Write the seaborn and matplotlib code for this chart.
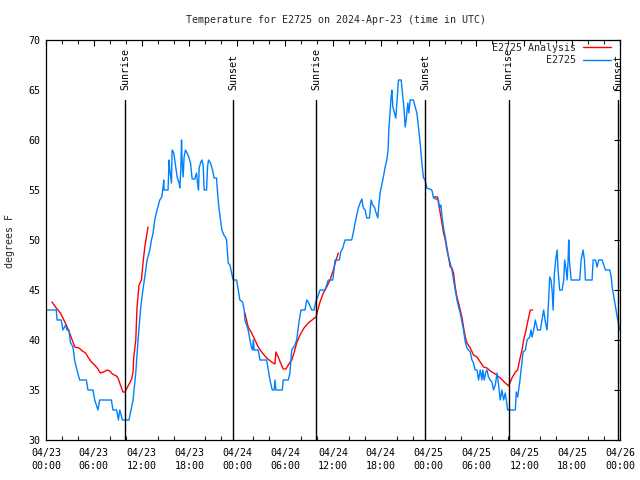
import matplotlib
matplotlib.use("Agg")
import matplotlib.pyplot as plt
import matplotlib.dates as mdates
from matplotlib.lines import Line2D
import numpy as np
import pandas as pd
import seaborn as sns

# ---------------- data ----------------
title = "Temperature for E2725 on 2024-Apr-23 (time in UTC)"
start = "2024-04-23 00:00"

# observed E2725 (hours since 04/23 00:00 UTC, deg F)
obs_hours = [0.00, 1.29, 1.39, 1.92, 2.12, 2.46, 2.63, 2.88, 3.05, 3.38, 3.59, 3.88, 4.22, 5.06, 5.26,
             5.89, 6.11, 6.52, 6.73, 8.20, 8.40, 8.87, 9.08, 9.25, 9.59, 10.41, 10.59, 10.92, 11.26,
             11.55, 11.85, 12.10, 12.39, 12.68, 13.02, 13.23, 13.43, 13.64, 13.93, 14.27, 14.52, 14.69,
             14.77, 14.81, 15.31, 15.44, 15.53, 15.74, 15.82, 16.03, 16.28, 16.45, 16.70, 16.78, 16.91,
             17.00, 17.07, 17.20, 17.32, 17.50, 17.70, 17.91, 18.13, 18.33, 18.67, 18.88, 19.01, 19.13,
             19.21, 19.42, 19.55, 19.71, 19.84, 20.14, 20.26, 20.39, 20.64, 20.89, 21.09, 21.39, 21.52,
             21.68, 21.90, 22.06, 22.31, 22.56, 22.65, 22.85, 23.07, 23.28, 23.48, 23.91, 24.11, 24.32,
             24.66, 24.86, 24.95, 25.16, 25.36, 25.58, 25.79, 25.92, 26.00, 26.12, 26.62, 26.83, 27.68,
             27.88, 28.09, 28.38, 28.63, 28.72, 28.84, 29.64, 29.76, 30.39, 30.60, 30.82, 31.23, 31.44,
             31.77, 31.98, 32.49, 32.70, 32.90, 33.33, 33.62, 33.83, 34.03, 34.37, 35.00, 35.41, 35.97,
             36.13, 36.26, 36.80, 36.97, 37.22, 37.51, 38.35, 38.56, 38.77, 38.98, 39.18, 39.40, 39.61,
             39.81, 40.03, 40.24, 40.57, 40.78, 40.99, 41.19, 41.41, 41.62, 41.75, 41.91, 42.12, 42.32,
             42.54, 42.75, 42.91, 43.00, 43.17, 43.29, 43.38, 43.51, 43.71, 43.88, 44.01, 44.21, 44.55,
             44.71, 44.92, 45.05, 45.18, 45.39, 45.52, 45.68, 46.09, 46.31, 46.52, 46.72, 46.93, 47.15,
             47.35, 47.56, 47.78, 48.40, 48.61, 49.23, 49.36, 49.54, 49.66, 49.87, 50.08, 50.29, 50.49,
             50.70, 50.92, 51.12, 51.33, 51.55, 51.75, 51.96, 52.17, 52.37, 52.59, 52.80, 53.22, 53.43,
             53.63, 53.84, 54.06, 54.26, 54.47, 54.68, 54.80, 54.97, 55.14, 55.31, 55.51, 55.73, 55.94,
             56.14, 56.36, 56.57, 56.77, 56.98, 57.19, 57.40, 57.61, 57.74, 57.90, 58.87, 58.99, 59.16,
             59.41, 59.59, 59.84, 60.13, 60.34, 60.67, 60.84, 60.97, 61.17, 61.38, 61.51, 61.67, 62.01,
             62.22, 62.42, 62.64, 62.85, 63.05, 63.18, 63.35, 63.48, 63.61, 63.77, 63.93, 64.11, 64.23,
             64.43, 64.74, 64.94, 65.06, 65.24, 65.37, 65.49, 65.57, 65.65, 65.87, 66.95, 67.12, 67.37,
             67.54, 67.66, 68.50, 68.63, 68.92, 69.13, 69.33, 69.76, 69.96, 70.18, 70.72, 70.90, 71.02,
             71.23, 71.43, 71.65, 71.85, 71.97]
obs_temp = [43.0, 43.0, 42.0, 42.0, 41.0, 41.5, 41.0, 41.0, 39.8, 39.3, 38.0, 37.0, 36.0, 36.0, 35.0,
            35.0, 34.0, 33.0, 34.0, 34.0, 33.0, 33.0, 32.0, 33.0, 32.0, 32.0, 32.7, 34.0, 36.7,
            40.0, 43.0, 44.7, 46.3, 48.0, 49.0, 50.0, 50.7, 52.0, 53.0, 54.0, 54.3, 55.3,
            56.0, 55.0, 55.0, 58.0, 57.0, 55.7, 59.0, 58.7, 57.3, 56.3, 55.7, 55.2, 57.0,
            60.0, 58.0, 56.3, 58.3, 59.0, 58.7, 58.3, 57.7, 56.1, 56.1, 56.7, 55.7, 55.0,
            57.2, 57.8, 58.0, 57.5, 55.0, 55.0, 57.3, 58.0, 57.7, 57.0, 56.2, 56.2, 54.7,
            53.3, 52.0, 51.0, 50.5, 50.2, 50.0, 47.7, 47.5, 46.7, 46.0, 46.0, 45.0, 44.0,
            43.8, 43.0, 42.0, 41.5, 41.0, 40.0, 39.2, 39.0, 40.0, 39.0, 39.0, 38.0, 38.0,
            37.0, 36.0, 35.0, 35.0, 36.0, 35.0, 35.0, 36.0, 36.0, 36.7, 39.0, 39.5, 40.0,
            42.0, 43.0, 43.0, 44.0, 43.8, 43.0, 43.0, 43.8, 44.2, 45.0, 45.0, 46.0, 46.0,
            47.0, 48.0, 48.0, 48.8, 49.2, 50.0, 50.0, 50.8, 51.7, 52.5, 53.2, 53.7, 54.1,
            53.2, 53.0, 52.2, 52.2, 54.0, 53.5, 53.3, 52.7, 52.2, 53.5, 54.7, 55.5, 56.3,
            57.3, 58.0, 59.0, 61.0, 63.0, 64.3, 65.0, 63.3, 62.7, 62.2, 63.7, 66.0, 66.0,
            64.7, 63.0, 61.3, 62.0, 63.7, 62.7, 64.0, 64.0, 63.3, 62.7, 61.3, 59.7, 57.7,
            56.2, 56.0, 55.2, 55.0, 54.2, 54.0, 53.2, 53.5, 52.4, 51.2, 50.3, 49.3, 48.3,
            47.7, 47.0, 46.0, 45.0, 44.0, 43.3, 42.7, 41.8, 41.0, 39.8, 39.2, 38.8, 38.0,
            37.7, 37.0, 37.0, 36.0, 37.0, 36.0, 37.0, 36.0, 36.7, 37.0, 36.3, 36.0, 35.8,
            35.0, 35.5, 36.7, 35.5, 34.0, 35.0, 34.0, 34.7, 34.0, 33.0, 33.0, 34.8, 34.3,
            35.7, 37.0, 38.8, 39.0, 40.0, 40.3, 41.0, 40.3, 41.0, 42.0, 41.5, 41.0, 41.0,
            42.0, 43.0, 41.8, 41.0, 44.0, 46.3, 46.0, 45.0, 43.0, 46.7, 48.0, 49.0, 47.0,
            45.0, 45.0, 46.0, 48.0, 47.0, 46.0, 48.0, 50.0, 48.0, 46.0, 46.0, 48.0, 49.0,
            48.0, 46.0, 46.0, 48.0, 48.0, 47.3, 48.0, 48.0, 47.5, 47.0, 47.0, 46.3, 45.3,
            44.3, 43.3, 42.3, 41.5, 41.0]

# analysis E2725 (three separate pieces)
an_seg = [1] * 39 + [2] * 31 + [3] * 42
an_hours = [0.74, 1.29, 1.80, 2.12, 2.55, 2.96, 3.38, 3.63, 4.13, 4.56, 4.97, 5.26, 5.69, 6.11, 6.52,
            6.82, 7.24, 7.65, 7.99, 8.33, 8.83, 9.03, 9.25, 9.46, 9.66, 9.91, 10.16, 10.50, 10.75,
            10.92, 11.01, 11.26, 11.42, 11.67, 11.97, 12.17, 12.39, 12.60, 12.80,
            24.95, 25.36, 25.79, 26.21, 26.62, 27.05, 27.68, 28.30, 28.72, 28.84, 29.13, 29.43, 29.76,
            30.10, 30.39, 30.82, 31.11, 31.44, 31.86, 32.36, 32.90, 33.53, 33.87, 34.16, 34.37, 34.79,
            35.21, 35.63, 36.04, 36.38, 36.67,
            48.61, 49.11, 49.23, 49.45, 49.66, 49.87, 50.08, 50.29, 50.49, 50.70, 50.92, 51.12, 51.33,
            51.55, 51.75, 51.96, 52.17, 52.37, 52.59, 52.80, 53.22, 53.63, 54.06, 54.47, 54.89, 55.31,
            55.73, 56.36, 56.98, 57.61, 58.03, 58.45, 58.87, 59.16, 59.41, 59.71, 59.91, 60.13, 60.34,
            60.55, 60.75, 61.04]
an_temp = [43.8, 43.2, 42.7, 42.2, 41.5, 40.7, 39.8, 39.3, 39.2, 38.9, 38.7, 38.3, 37.8, 37.5, 37.1,
           36.7, 36.8, 37.0, 36.9, 36.6, 36.4, 36.2, 35.7, 35.2, 34.8, 34.8, 35.2, 35.7, 36.1,
           36.8, 38.3, 40.0, 43.3, 45.5, 46.0, 47.7, 49.3, 50.3, 51.3,
           42.7, 41.3, 40.7, 40.0, 39.3, 38.8, 38.2, 37.8, 37.6, 38.8, 38.3, 37.7, 37.1,
           37.1, 37.5, 38.0, 38.7, 39.7, 40.5, 41.2, 41.7, 42.1, 42.3, 43.2, 43.8, 44.7,
           45.3, 46.0, 47.0, 48.0, 48.7,
           54.3, 54.3, 53.7, 52.7, 51.7, 50.7, 50.0, 49.0, 48.3, 47.3, 47.2, 46.7, 45.3,
           44.3, 43.7, 43.0, 42.3, 41.3, 40.3, 39.7, 39.2, 38.5, 38.3, 37.8, 37.3, 37.2,
           36.9, 36.6, 36.2, 35.7, 35.4, 36.2, 36.8, 37.0, 38.0, 39.0, 40.0, 40.7, 41.5,
           42.3, 43.0, 43.0]

# sun events (hours since start)
sun_labels = ["Sunrise", "Sunset", "Sunrise", "Sunset", "Sunrise", "Sunset"]
sun_hours = [9.92, 23.48, 33.90, 47.60, 58.03, 71.75]

series_names = ["E2725 Analysis", "E2725"]
series_colors = ["#ff0000", "#0080ff"]

# ---------------- build frames ----------------
t0 = pd.Timestamp(start)
obs = pd.DataFrame({"time": t0 + pd.to_timedelta(obs_hours, unit="h"), "temp": obs_temp})
ana = pd.DataFrame({"time": t0 + pd.to_timedelta(an_hours, unit="h"), "temp": an_temp, "seg": an_seg})

sns.set_style("white")
plt.rcParams["font.family"] = ["DejaVu Sans Mono"]
FS = 7.2

fig = plt.figure(figsize=(6.4, 4.8), dpi=100)
ax = fig.add_axes([46 / 640, 40 / 480, 574 / 640, 400 / 480])

sns.lineplot(data=ana, x="time", y="temp", units="seg", estimator=None, sort=False,
             color=series_colors[0], lw=1.0, ax=ax)
sns.lineplot(data=obs, x="time", y="temp", estimator=None, sort=False,
             color=series_colors[1], lw=1.0, ax=ax)

ax.set_xlim(t0, t0 + pd.Timedelta(hours=72))
ax.set_ylim(30, 70)
ax.set_xlabel("")
ax.set_ylabel("")

# sunrise / sunset markers
for lab, h in zip(sun_labels, sun_hours):
    tt = t0 + pd.Timedelta(hours=h)
    ax.axvline(tt, ymin=0, ymax=(64 - 30) / 40, color="black", lw=1.0)
    ax.text(mdates.date2num(tt), 65.0, lab, rotation=90, ha="center", va="bottom",
            fontsize=FS, color="black", clip_on=False)

# ticks
xt = [t0 + pd.Timedelta(hours=6 * i) for i in range(13)]
ax.set_xticks(xt)
ax.set_xticklabels([t.strftime("%m/%d\n%H:%M") for t in xt])
ax.xaxis.set_minor_locator(mdates.HourLocator(byhour=range(0, 24, 2)))
ax.set_yticks(range(30, 71, 5))
ax.set_yticklabels([str(v) for v in range(30, 71, 5)])
ax.tick_params(axis="both", which="major", direction="in", length=4.5, width=0.8,
               top=True, right=True, labelsize=FS, colors="black")
ax.tick_params(axis="x", which="minor", direction="in", length=3, width=0.8, top=True, bottom=True)
ax.tick_params(axis="x", which="major", pad=6)
ax.tick_params(axis="y", which="major", pad=4)
for lbl in ax.get_xticklabels():
    lbl.set_linespacing(1.35)

for s in ax.spines.values():
    s.set_color("black")
    s.set_linewidth(0.9)

# legend
handles = [Line2D([0], [0], color=c, lw=1.0) for c in series_colors]
ax.legend(handles, series_names, loc="upper right", bbox_to_anchor=((611 - 46) / 574, (440 - 43) / 400),
          frameon=False, markerfirst=False, handlelength=2.8, handletextpad=0.7,
          labelspacing=0.25, borderpad=0, borderaxespad=0, fontsize=FS)

fig.text(336 / 640, 1 - 20 / 480, title, ha="center", va="center", fontsize=FS)
fig.text(10 / 640, 1 - 241 / 480, "degrees F", rotation=90, ha="center", va="center", fontsize=FS)

fig.savefig("out.png", dpi=100)
